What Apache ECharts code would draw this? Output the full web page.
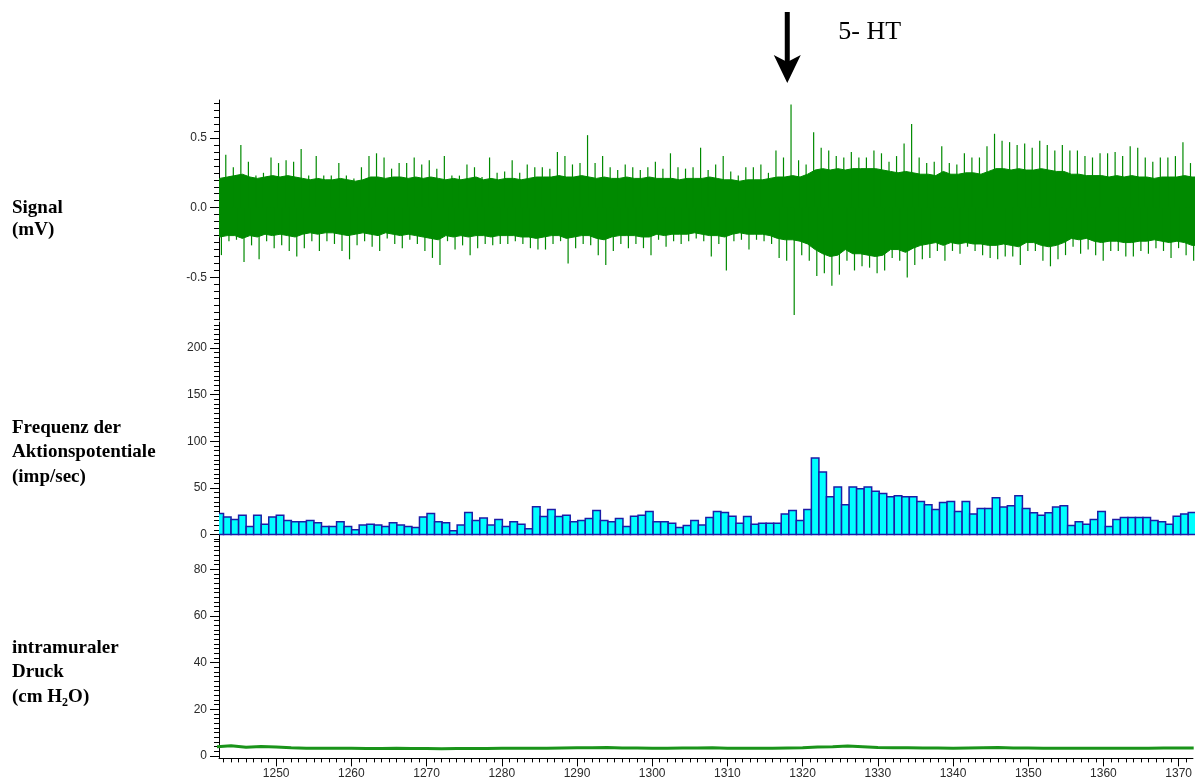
<!DOCTYPE html>
<html><head><meta charset="utf-8">
<script src="https://cdn.jsdelivr.net/npm/echarts@6/dist/echarts.min.js"></script>
<style>html,body{margin:0;padding:0;background:#fff}#c{width:1195px;height:782px}</style>
</head><body><div id="c"></div>
<script>
// ---------- data ----------
const firstSecond = 1242;            // first 1-s bin
const injectionTime = 1317.8;        // 5-HT application (arrow)
const injectionLabel = '5- HT';

// action potential frequency per 1-s bin (imp/sec), bins 1242 ... 1371
const freqValues = [
  22.5,18.6,16,20.7,8.6,20.7,11,18.6,
  20.7,15,13.6,13.6,15,12.5,8.6,8.6,13.6,8.6,
  5,10,11,10,8.6,12.5,10,8.6,7.5,18.6,
  22.5,13.6,12.5,4,10,23.6,15,17.5,10,16,
  8.6,13.6,11,6,29.6,19.3,26.8,19.3,20.7,13.6,
  15,17,25.7,15,13.6,17,8.6,19.6,20.7,24.6,
  13.6,13.6,12,7.5,9.6,15,10,18.2,24.6,23.6,
  19.6,12,19.3,11,12,12,12,22,25.7,15,
  26.8,82,67,40.4,51,31.8,51,49,51,46.4,
  44,40.4,41.4,40.4,40.4,35.4,31.8,26.8,34.3,35.4,
  24.6,35.4,22,27.9,27.9,39.3,29.3,30.7,41.4,27.9,
  23.2,20.7,23.2,29.3,30.7,9.6,13.6,11,16,24.6,
  8.6,16,18.2,18.2,18.2,18.2,15,13.6,11,19.6,
  22,23.6
];

// signal (mV): per 1-s bin, extreme spikes and the edges of the dense band
const sigMax = [
  0.26,0.38,0.29,0.45,0.33,0.23,0.25,0.36,
  0.32,0.34,0.33,0.42,0.23,0.37,0.23,0.23,0.32,0.23,
  0.21,0.29,0.37,0.39,0.36,0.28,0.32,0.32,0.36,0.31,
  0.34,0.28,0.37,0.23,0.23,0.31,0.29,0.22,0.36,0.25,
  0.26,0.34,0.25,0.31,0.29,0.29,0.28,0.40,0.37,0.31,
  0.32,0.52,0.32,0.37,0.29,0.27,0.31,0.29,0.27,0.29,
  0.33,0.28,0.39,0.29,0.28,0.29,0.43,0.27,0.31,0.37,
  0.26,0.23,0.29,0.29,0.31,0.25,0.41,0.36,0.74,0.34,
  0.31,0.54,0.43,0.41,0.37,0.36,0.40,0.36,0.36,0.41,
  0.39,0.33,0.37,0.46,0.60,0.36,0.32,0.33,0.44,0.32,
  0.31,0.39,0.36,0.36,0.44,0.53,0.48,0.47,0.45,0.46,
  0.43,0.48,0.45,0.41,0.45,0.41,0.41,0.37,0.36,0.39,
  0.39,0.40,0.37,0.44,0.43,0.36,0.33,0.36,0.36,0.37,
  0.47,0.32
];
const sigMin = [
  -0.34,-0.24,-0.23,-0.39,-0.27,-0.37,-0.24,-0.29,
  -0.27,-0.31,-0.35,-0.29,-0.24,-0.31,-0.24,-0.26,-0.31,-0.37,
  -0.27,-0.24,-0.28,-0.31,-0.22,-0.26,-0.29,-0.23,-0.26,-0.31,
  -0.36,-0.41,-0.24,-0.30,-0.27,-0.34,-0.29,-0.26,-0.27,-0.26,
  -0.26,-0.24,-0.26,-0.29,-0.30,-0.30,-0.26,-0.24,-0.40,-0.29,
  -0.26,-0.27,-0.34,-0.41,-0.31,-0.26,-0.29,-0.26,-0.29,-0.34,
  -0.23,-0.28,-0.24,-0.26,-0.24,-0.22,-0.24,-0.35,-0.26,-0.45,
  -0.24,-0.23,-0.30,-0.23,-0.24,-0.26,-0.36,-0.38,-0.77,-0.34,
  -0.38,-0.49,-0.47,-0.56,-0.48,-0.38,-0.45,-0.42,-0.43,-0.47,
  -0.45,-0.36,-0.38,-0.50,-0.41,-0.37,-0.36,-0.31,-0.38,-0.31,
  -0.33,-0.28,-0.31,-0.34,-0.36,-0.37,-0.35,-0.35,-0.41,-0.31,
  -0.31,-0.38,-0.42,-0.37,-0.34,-0.28,-0.33,-0.30,-0.34,-0.38,
  -0.31,-0.31,-0.35,-0.35,-0.31,-0.33,-0.29,-0.31,-0.36,-0.29,
  -0.34,-0.38
];
const coreUp = [
  0.21,0.22,0.23,0.24,0.22,0.21,0.22,0.23,
  0.22,0.23,0.22,0.21,0.20,0.21,0.20,0.20,0.21,0.20,
  0.19,0.20,0.22,0.22,0.21,0.22,0.22,0.21,0.22,0.21,
  0.22,0.21,0.20,0.21,0.20,0.21,0.22,0.20,0.21,0.20,
  0.21,0.21,0.20,0.21,0.22,0.22,0.22,0.23,0.22,0.22,
  0.23,0.22,0.21,0.22,0.21,0.21,0.22,0.21,0.21,0.22,
  0.21,0.21,0.21,0.20,0.21,0.21,0.21,0.22,0.21,0.20,
  0.20,0.19,0.20,0.20,0.20,0.21,0.22,0.22,0.23,0.22,
  0.24,0.27,0.28,0.27,0.28,0.27,0.28,0.28,0.28,0.28,
  0.27,0.26,0.25,0.26,0.25,0.24,0.24,0.23,0.26,0.24,
  0.24,0.25,0.25,0.24,0.26,0.28,0.28,0.27,0.28,0.27,
  0.27,0.28,0.27,0.26,0.26,0.24,0.24,0.23,0.23,0.23,
  0.22,0.23,0.22,0.23,0.22,0.22,0.21,0.22,0.22,0.22,
  0.23,0.22
];
const coreDown = [
  -0.21,-0.20,-0.20,-0.22,-0.20,-0.21,-0.19,-0.20,
  -0.19,-0.20,-0.21,-0.19,-0.18,-0.19,-0.18,-0.18,-0.19,-0.20,
  -0.19,-0.18,-0.19,-0.20,-0.18,-0.19,-0.20,-0.19,-0.20,-0.21,
  -0.22,-0.23,-0.20,-0.21,-0.20,-0.21,-0.20,-0.20,-0.21,-0.20,
  -0.20,-0.20,-0.21,-0.21,-0.22,-0.21,-0.20,-0.20,-0.22,-0.21,
  -0.20,-0.20,-0.22,-0.23,-0.21,-0.20,-0.20,-0.20,-0.21,-0.21,
  -0.19,-0.20,-0.19,-0.19,-0.19,-0.18,-0.19,-0.20,-0.20,-0.21,
  -0.19,-0.18,-0.19,-0.19,-0.19,-0.20,-0.22,-0.23,-0.23,-0.24,
  -0.26,-0.30,-0.33,-0.35,-0.34,-0.30,-0.33,-0.33,-0.34,-0.35,
  -0.34,-0.30,-0.30,-0.32,-0.29,-0.27,-0.26,-0.25,-0.27,-0.25,
  -0.26,-0.25,-0.26,-0.26,-0.27,-0.27,-0.26,-0.27,-0.28,-0.25,
  -0.25,-0.27,-0.28,-0.27,-0.25,-0.22,-0.23,-0.22,-0.24,-0.25,
  -0.24,-0.24,-0.25,-0.25,-0.24,-0.24,-0.23,-0.24,-0.25,-0.24,
  -0.25,-0.27
];

// intramural pressure (cm H2O), one reading every 2 s from 1242 s
const pressureStep = 2;
const pressureValues = [
  4.0,4.4,3.8,4.1,3.9,3.6,3.4,3.3,3.3,3.3,
  3.2,3.2,3.3,3.2,3.2,3.1,3.2,3.2,3.2,3.3,
  3.3,3.3,3.4,3.5,3.6,3.6,3.7,3.5,3.5,3.4,
  3.4,3.5,3.5,3.6,3.4,3.3,3.4,3.4,3.5,3.6,
  3.9,4.0,4.3,4.0,3.7,3.6,3.6,3.5,3.5,3.4,
  3.5,3.6,3.7,3.5,3.5,3.4,3.4,3.4,3.4,3.4,
  3.4,3.4,3.4,3.5,3.5,3.5
];

// axis ticks / labels
const timeTickLabels = [1250,1260,1270,1280,1290,1300,1310,1320,1330,1340,1350,1360,1370];
const signalTickLabels = [-0.5, 0.0, 0.5];
const freqTickLabels = [0, 50, 100, 150, 200];
const pressureTickLabels = [0, 20, 40, 60, 80];

const panelTitles = [
  { lines: ['Signal', '(mV)'] },
  { lines: ['Frequenz der', 'Aktionspotentiale', '(imp/sec)'] },
  { lines: ['intramuraler', 'Druck', '{n|(cm H}{s|2}{n|O)}'] }
];

// ---------- chart ----------
const X_MIN = 1242.4, X_MAX = 1371.9;
function range(a, b, step) { const r = []; for (let v = a; v <= b + 1e-9; v += step) r.push(+v.toFixed(4)); return r; }
const timeMinor = range(1243, 1371, 1);
const signalMinor = range(-0.8, 0.75, 0.05);
const freqMinor = range(-5, 225, 5);
const pressureMinor = range(0, 92, 2);

const GREEN = '#008a00';
const labelFont = { fontFamily: 'Liberation Sans', fontSize: 12, color: '#2a2a2a' };

function mainY(gridIndex, min, max, ticks, fmt) {
  return {
    type: 'value', gridIndex, position: 'left', min, max,
    splitLine: { show: false },
    axisLine: { show: true, lineStyle: { color: '#000', width: 1 } },
    axisTick: { show: true, length: 9, customValues: ticks, lineStyle: { color: '#000' } },
    axisLabel: Object.assign({ show: true, margin: 12, customValues: ticks, formatter: fmt }, labelFont)
  };
}
function minorY(gridIndex, min, max, ticks) {
  return {
    type: 'value', gridIndex, position: 'left', min, max,
    splitLine: { show: false },
    axisLine: { show: false },
    axisTick: { show: true, length: 5, customValues: ticks, lineStyle: { color: '#000' } },
    axisLabel: { show: false }
  };
}

const spikeData = sigMax.map((v, i) => [firstSecond + i, sigMin[i], v]);
const freqData = freqValues.map((v, i) => [firstSecond + i, v]);
const pressureData = pressureValues.map((v, i) => [firstSecond + i * pressureStep, v]);

const chart = echarts.init(document.getElementById('c'), null, { renderer: 'canvas' });

const option = {
  animation: false,
  backgroundColor: '#fff',
  grid: [
    { left: 219, right: 0, top: 100, height: 220 },
    { left: 219, right: 0, top: 322, height: 218 },
    { left: 219, right: 0, top: 540, height: 218.4 }
  ],
  xAxis: [
    { type: 'value', gridIndex: 0, min: X_MIN, max: X_MAX, show: false },
    { type: 'value', gridIndex: 1, min: X_MIN, max: X_MAX, show: false },
    {
      type: 'value', gridIndex: 2, position: 'bottom', min: X_MIN, max: X_MAX,
      splitLine: { show: false },
      axisLine: { show: true, onZero: false, lineStyle: { color: '#000' } },
      axisTick: { show: true, length: 8, customValues: timeTickLabels, lineStyle: { color: '#000' } },
      axisLabel: Object.assign({ show: true, margin: 9, customValues: timeTickLabels, formatter: v => String(v) }, labelFont)
    },
    {
      type: 'value', gridIndex: 2, position: 'bottom', min: X_MIN, max: X_MAX,
      splitLine: { show: false },
      axisLine: { show: false, onZero: false },
      axisTick: { show: true, length: 4, customValues: timeMinor, lineStyle: { color: '#000' } },
      axisLabel: { show: false }
    }
  ],
  yAxis: [
    mainY(0, -0.805, 0.772, signalTickLabels, v => v.toFixed(1)),
    minorY(0, -0.805, 0.772, signalMinor),
    mainY(1, -6, 228, freqTickLabels, v => String(v)),
    minorY(1, -6, 228, freqMinor),
    mainY(2, -1, 92.6, pressureTickLabels, v => String(v)),
    minorY(2, -1, 92.6, pressureMinor)
  ],
  series: [
    {
      // dense band of the signal, one polygon through the per-second band edges
      type: 'custom', name: 'Signal band', xAxisIndex: 0, yAxisIndex: 0, clip: true,
      data: [[firstSecond, 0]],
      encode: { x: 0, y: 1 },
      renderItem: function (params, api) {
        const up = [], dn = [];
        up.push(api.coord([firstSecond, coreUp[0]]));
        dn.push(api.coord([firstSecond, coreDown[0]]));
        for (let i = 0; i < coreUp.length; i++) {
          up.push(api.coord([firstSecond + i + 0.5, coreUp[i]]));
          dn.push(api.coord([firstSecond + i + 0.5, coreDown[i]]));
        }
        const last = coreUp.length - 1;
        up.push(api.coord([firstSecond + last + 1, coreUp[last]]));
        dn.push(api.coord([firstSecond + last + 1, coreDown[last]]));
        return {
          type: 'polygon',
          shape: { points: up.concat(dn.reverse()) },
          style: { fill: GREEN, stroke: GREEN, lineWidth: 1 }
        };
      }
    },
    {
      // extreme spikes of each second
      type: 'custom', name: 'Signal spikes', xAxisIndex: 0, yAxisIndex: 0, clip: true,
      data: spikeData,
      encode: { x: 0, y: [1, 2] },
      renderItem: function (params, api) {
        const n = api.value(0);
        const upTop = api.coord([n + 0.3, api.value(2)]);
        const upBase = api.coord([n + 0.3, 0]);
        const dnBot = api.coord([n + 0.72, api.value(1)]);
        const dnBase = api.coord([n + 0.72, 0]);
        return {
          type: 'group',
          children: [
            { type: 'line', shape: { x1: upTop[0], y1: upTop[1], x2: upBase[0], y2: upBase[1] }, style: { stroke: GREEN, lineWidth: 1.2 } },
            { type: 'line', shape: { x1: dnBot[0], y1: dnBot[1], x2: dnBase[0], y2: dnBase[1] }, style: { stroke: GREEN, lineWidth: 1.2 } }
          ]
        };
      }
    },
    {
      type: 'custom', name: 'Frequenz', xAxisIndex: 1, yAxisIndex: 2, clip: true,
      data: freqData,
      encode: { x: 0, y: 1 },
      renderItem: function (params, api) {
        const n = api.value(0);
        const p0 = api.coord([n, api.value(1)]);
        const p1 = api.coord([n + 1, 0]);
        return {
          type: 'rect',
          shape: { x: p0[0], y: p0[1], width: p1[0] - p0[0], height: p1[1] - p0[1] },
          style: { fill: '#00ffff', stroke: '#1c1ca6', lineWidth: 1.5 }
        };
      }
    },
    {
      type: 'line', name: 'Druck', xAxisIndex: 2, yAxisIndex: 4,
      data: pressureData, showSymbol: false, symbol: 'none',
      lineStyle: { color: '#1a941a', width: 3 }
    }
  ]
};
chart.setOption(option);

// ---------- annotations ----------
const titleFont = { fontFamily: 'Liberation Serif', fontWeight: 'bold', fontSize: 19, fill: '#000' };
const titleCenters = [[208, 230], [428, 452, 477], [648, 672, 697]];
const graphics = [];
panelTitles.forEach((p, k) => {
  p.lines.forEach((txt, m) => {
    graphics.push({
      type: 'text', left: 12, top: titleCenters[k][m] - 12,
      style: Object.assign({
        text: txt, verticalAlign: 'top', lineHeight: 24,
        rich: {
          n: { fontFamily: 'Liberation Serif', fontWeight: 'bold', fontSize: 19, lineHeight: 24 },
          s: { fontFamily: 'Liberation Serif', fontWeight: 'bold', fontSize: 12, lineHeight: 24, verticalAlign: 'bottom', padding: [10, 0, 0, 0] }
        }
      }, titleFont)
    });
  });
});

const ax = chart.convertToPixel({ xAxisIndex: 0 }, injectionTime);
graphics.push({
  type: 'polygon',
  shape: { points: [[ax - 2.5, 12], [ax + 2.5, 12], [ax + 2.5, 62], [ax - 2.5, 62]] },
  style: { fill: '#000' }
});
graphics.push({
  type: 'polygon',
  shape: { points: [[ax - 13.5, 55], [ax, 62], [ax + 13.5, 55], [ax, 83]] },
  style: { fill: '#000' }
});
graphics.push({
  type: 'text', x: ax + 51, y: 32,
  style: { text: injectionLabel, fontFamily: 'Liberation Serif', fontSize: 26, fill: '#000', verticalAlign: 'middle', align: 'left' }
});
chart.setOption({ graphic: graphics });
</script>
</body></html>
